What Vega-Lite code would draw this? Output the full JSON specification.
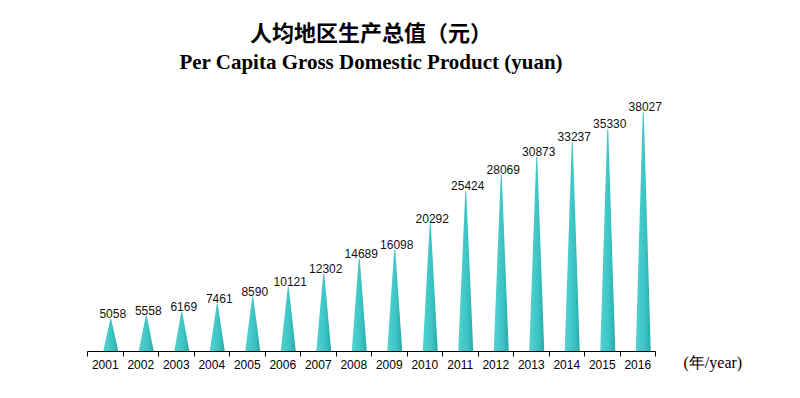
{
  "$schema": "https://vega.github.io/schema/vega-lite/v6.json",
  "width": 568,
  "height": 251,
  "autosize": "none",
  "padding": {"left": 87, "top": 100, "right": 145, "bottom": 47},
  "background": "white",
  "title": {
    "text": "人均地区生产总值（元）",
    "subtitle": "Per Capita Gross Domestic Product (yuan)",
    "font": "Noto Sans CJK SC",
    "fontSize": 22,
    "fontWeight": "bold",
    "color": "black",
    "subtitleFont": "Liberation Serif",
    "subtitleFontSize": 21,
    "subtitleFontWeight": "bold",
    "subtitleColor": "black",
    "subtitlePadding": 6,
    "anchor": "middle",
    "offset": 26
  },
  "data": {
    "values": [
      {"year": "2001", "value": 5058},
      {"year": "2002", "value": 5558},
      {"year": "2003", "value": 6169},
      {"year": "2004", "value": 7461},
      {"year": "2005", "value": 8590},
      {"year": "2006", "value": 10121},
      {"year": "2007", "value": 12302},
      {"year": "2008", "value": 14689},
      {"year": "2009", "value": 16098},
      {"year": "2010", "value": 20292},
      {"year": "2011", "value": 25424},
      {"year": "2012", "value": 28069},
      {"year": "2013", "value": 30873},
      {"year": "2014", "value": 33237},
      {"year": "2015", "value": 35330},
      {"year": "2016", "value": 38027}
    ]
  },
  "config": {"view": {"stroke": null}},
  "encoding": {
    "x": {
      "field": "year",
      "type": "ordinal",
      "scale": {"paddingInner": 0, "paddingOuter": 0},
      "axis": {
        "domainColor": "black",
        "tickColor": "black",
        "tickSize": 5,
        "tickBand": "extent",
        "labelAngle": 0,
        "labelFont": "Liberation Sans",
        "labelFontSize": 12,
        "labelColor": "black",
        "labelPadding": 3,
        "title": "(年/year)",
        "titleFont": "Liberation Serif",
        "titleFontWeight": "normal",
        "titleFontSize": 16,
        "titleColor": "black",
        "titleX": 596,
        "titleY": 11,
        "titleAlign": "left",
        "titleBaseline": "middle"
      }
    }
  },
  "layer": [
    {
      "transform": [
        {"calculate": "0", "as": "bottom"},
        {"fold": ["bottom", "value"], "as": ["end", "v"]}
      ],
      "mark": {"type": "trail", "clip": true, "xOffset": 6, "color": {"gradient": "linear", "x1": 0, "y1": 0, "x2": 1, "y2": 0, "stops": [{"offset": 0, "color": "#52D2D2"}, {"offset": 0.6, "color": "#3CC4C4"}, {"offset": 1, "color": "#2AA9A9"}]}},
      "encoding": {
        "y": {"field": "v", "type": "quantitative", "scale": {"domain": [0, 40000], "nice": false}, "axis": null},
        "detail": {"field": "year"},
        "order": {"field": "v", "type": "quantitative"},
        "size": {"field": "end", "type": "nominal", "scale": {"domain": ["bottom", "value"], "range": [15, 1]}, "legend": null}
      }
    },
    {
      "mark": {"type": "text", "xOffset": 8, "dy": -1, "baseline": "alphabetic", "font": "Liberation Sans", "fontSize": 12, "color": "#111"},
      "encoding": {
        "y": {"field": "value", "type": "quantitative", "scale": {"domain": [0, 40000], "nice": false}, "axis": null},
        "text": {"field": "value", "type": "quantitative", "format": "d"}
      }
    }
  ]
}
